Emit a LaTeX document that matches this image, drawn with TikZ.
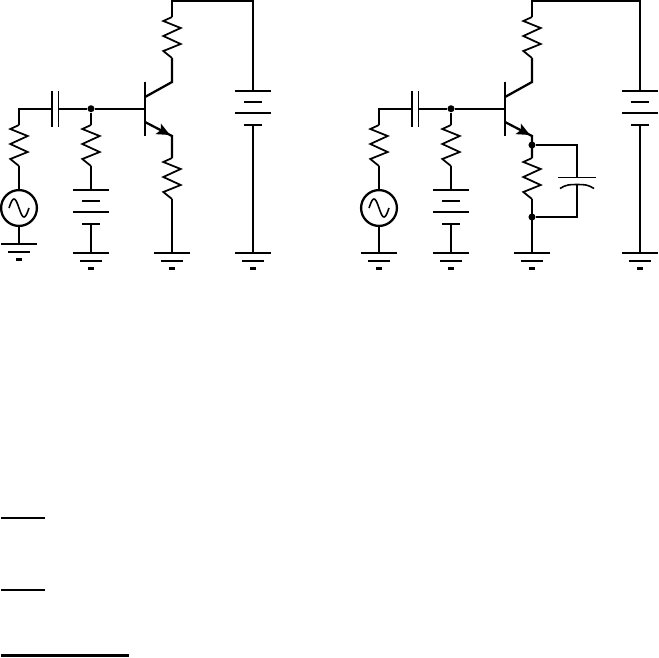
\documentclass[tikz,border=0pt]{standalone}
\usetikzlibrary{arrows.meta,calc}
\tikzset{
  wire/.style={line width=1.3pt,line join=miter},
  thinplate/.style={line width=0.7pt},
  dotnode/.style={circle,fill=black,inner sep=0pt,minimum size=4pt},
  sinebox/.style={circle,draw,line width=1.3pt,inner sep=0pt,minimum size=20.4pt},
  zigzag/.pic={
    \draw[line width=1pt] (0,0) -- (-8.7,4) -- (8.7,11) -- (-8.7,19) -- (8.7,27) -- (-8.7,34) -- (0,41);
  },
  groundsym/.pic={
    \draw[wire] (-18,0) -- (18,0);
    \draw[wire] (-11,8) -- (11,8);
    \draw[wire] (-3,15.5) -- (3,15.5);
  },
  batterysym/.pic={
    \draw[wire] (-18,0) -- (18,0);
    \draw[thinplate] (-9,11) -- (9,11);
    \draw[thinplate] (-18,22) -- (18,22);
    \draw[wire] (-9,34) -- (9,34);
  },
}
\begin{document}
\begin{tikzpicture}[x=0.02cm,y=-0.02cm]
  \useasboundingbox (0,0) rectangle (659,657);
  % both amplifiers: prefix / shift / supply wire / ground under the source
  \foreach \p/\dx/\bx/\gy in {a/0/253/244,b/360/640/253}{
    \coordinate (\p in) at (19+\dx,108.7);
    \coordinate (\p rs) at (19+\dx,125);
    \coordinate (\p rse) at (19+\dx,166);
    \node[sinebox] (\p src) at (19+\dx,208) {};
    \coordinate (\p gs) at (19+\dx,\gy);
    \coordinate (\p c1) at (52+\dx,108.7);
    \coordinate (\p c2) at (58.7+\dx,108.7);
    \node[dotnode] (\p j) at (91+\dx,108.7) {};
    \coordinate (\p base) at (145+\dx,108.7);
    \coordinate (\p rb) at (91+\dx,125);
    \coordinate (\p rbe) at (91+\dx,166);
    \coordinate (\p bat) at (91+\dx,190);
    \coordinate (\p bate) at (91+\dx,224);
    \coordinate (\p gb) at (91+\dx,253);
    \coordinate (\p top) at (172+\dx,0.8);
    \coordinate (\p rc) at (172+\dx,17);
    \coordinate (\p rce) at (172+\dx,58);
    \coordinate (\p col) at (172+\dx,82);
    \coordinate (\p cb) at (145+\dx,97);
    \coordinate (\p eb) at (145+\dx,122);
    \coordinate (\p em) at (172+\dx,136);
    \coordinate (\p re) at (172+\dx,158);
    \coordinate (\p ree) at (172+\dx,199);
    \coordinate (\p ge) at (172+\dx,253);
    \coordinate (\p sup) at (\bx,0.8);
    \coordinate (\p vcc) at (\bx,91);
    \coordinate (\p vcce) at (\bx,125);
    \coordinate (\p gv) at (\bx,253);
    % source branch
    \draw[wire] (\p c1) -- (\p in) -- (\p rs);
    \pic at (\p rs) {zigzag};
    \draw[wire] (\p rse) -- (\p src);
    \draw[wire] (\p src) -- (\p gs);
    \draw[line width=0.9pt,shift={(\p src)}] plot[smooth,domain=-10:10,samples=30]
      (\x,{9*sin(18*\x)});
    \pic at (\p gs) {groundsym};
    % coupling capacitor
    \draw[thinplate] ($(\p c1)+(0,-18)$) -- ($(\p c1)+(0,18)$);
    \draw[thinplate] ($(\p c2)+(0,-18)$) -- ($(\p c2)+(0,18)$);
    \draw[wire] (\p c2) -- (\p j) -- (\p base);
    % base bias
    \draw[wire] (\p j) -- (\p rb);
    \pic at (\p rb) {zigzag};
    \draw[wire] (\p rbe) -- (\p bat);
    \pic at (\p bat) {batterysym};
    \draw[wire] (\p bate) -- (\p gb);
    \pic at (\p gb) {groundsym};
    % transistor
    \draw[wire] ($(\p base)+(0,-27)$) -- ($(\p base)+(0,27)$);
    \draw[wire] (\p cb) -- (\p col) -- (\p rce);
    \pic at (\p rc) {zigzag};
    \draw[wire] (\p rc) -- (\p top) -- (\p sup) -- (\p vcc);
    \pic at (\p vcc) {batterysym};
    \draw[wire] (\p vcce) -- (\p gv);
    \pic at (\p gv) {groundsym};
    \draw[wire,-{Stealth[length=7.5pt,width=6.5pt,inset=1.5pt]}] (\p eb) -- ($(\p eb)!0.93!(\p em)$);
    \draw[wire] ($(\p eb)!0.8!(\p em)$) -- (\p em) -- (\p re);
    \pic at (\p re) {zigzag};
    \draw[wire] (\p ree) -- (\p ge);
    \pic at (\p ge) {groundsym};
  }
  % bypass capacitor, second amplifier only
  \node[dotnode] (bd1) at (532,145) {};
  \node[dotnode] (bd2) at (532,217) {};
  \coordinate (bc1) at (577,145);
  \coordinate (bc2) at (577,177.5);
  \coordinate (bc3) at (577,184.5);
  \coordinate (bc4) at (577,217);
  \draw[wire] (bd1) -- (bc1) -- (bc2);
  \draw[wire] (bc3) -- (bc4) -- (bd2);
  \draw[thinplate] ($(bc2)+(-19,0)$) -- ($(bc2)+(19,0)$);
  \draw[line width=0.9pt] ($(bc3)+(-17,4)$) .. controls +(6,-4) and +(-7,0) .. (bc3)
    .. controls +(7,0) and +(-6,-4) .. ($(bc3)+(17,4)$);
  % rules below
  \coordinate (r1) at (1,518);
  \coordinate (r1e) at (45,518);
  \coordinate (r2) at (1,590);
  \coordinate (r2e) at (45,590);
  \coordinate (r3) at (1,655.6);
  \coordinate (r3e) at (129,655.6);
  \draw[thinplate] (r1) -- (r1e);
  \draw[thinplate] (r2) -- (r2e);
  \draw[wire] (r3) -- (r3e);
\end{tikzpicture}
\end{document}
